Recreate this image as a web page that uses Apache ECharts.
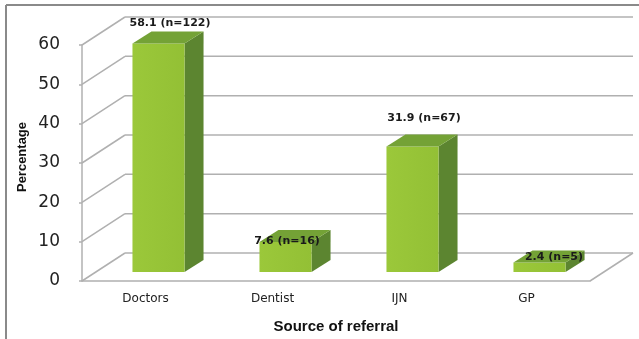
<!DOCTYPE html>
<html>
<head>
<meta charset="utf-8">
<script src="https://cdn.jsdelivr.net/npm/echarts@6/dist/echarts.min.js"></script>
<style>
  html, body { margin: 0; padding: 0; background: #fff; }
  #chart { width: 639px; height: 339px; }
</style>
</head>
<body>
<div id="chart"></div>
<script>
  // data
  var categories = ['Doctors', 'Dentist', 'IJN', 'GP'];
  var percentValues = [58.1, 7.6, 31.9, 2.4];
  var counts = [122, 16, 67, 5];
  var yTicks = [0, 10, 20, 30, 40, 50, 60];

  // 3d look: full depth of the box, where the bar sits in it, and bar depth
  var DEPTH = [43, -28];
  var BAR_SHIFT = [13, -9];
  var BAR_DEPTH = [19, -12];
  // small nudges so the value labels sit like in the original
  var labelNudge = [[2, -14], [-8, 5], [2, -22], [5, 1]];

  var gridColor = '#b0b0b0';

  var myChart = echarts.init(document.getElementById('chart'));

  function renderGrid(params, api) {
    var cs = params.coordSys;
    var v = api.value(0);
    var y = api.coord([0, v])[1];
    var x0 = cs.x, x1 = cs.x + cs.width;
    var style = { stroke: gridColor, lineWidth: 1.5, fill: null };
    var children = [
      { type: 'line', shape: { x1: x0, y1: y, x2: x0 + DEPTH[0], y2: y + DEPTH[1] }, style: style },
      { type: 'line', shape: { x1: x0 + DEPTH[0], y1: y + DEPTH[1], x2: x1 + DEPTH[0], y2: y + DEPTH[1] }, style: style }
    ];
    if (v === 0) {
      children.push({ type: 'line', shape: { x1: x1, y1: y, x2: x1 + DEPTH[0], y2: y + DEPTH[1] }, style: style });
    }
    return { type: 'group', children: children };
  }

  function renderBar(params, api) {
    var i = api.value(0);
    var v = api.value(1);
    var base = api.coord([i, 0]);
    var top = api.coord([i, v]);
    var bw = api.size([1, 0])[0] * 0.41;
    var L = base[0] - bw / 2 + BAR_SHIFT[0];
    var R = L + bw;
    var Ty = top[1] + BAR_SHIFT[1];
    var By = base[1] + BAR_SHIFT[1];
    var dx = BAR_DEPTH[0], dy = BAR_DEPTH[1];
    var nudge = labelNudge[params.dataIndex];
    return {
      type: 'group',
      children: [
        { type: 'polygon', shape: { points: [[R, Ty], [R + dx, Ty + dy], [R + dx, By + dy], [R, By]] },
          style: { fill: '#5c8530' } },
        { type: 'polygon', shape: { points: [[L, Ty], [R, Ty], [R, By], [L, By]] },
          style: { fill: new echarts.graphic.LinearGradient(0, 0, 1, 0, [
            { offset: 0, color: '#9bc83a' }, { offset: 1, color: '#93c035' }]) } },
        { type: 'polygon', shape: { points: [[L, Ty], [R, Ty], [R + dx, Ty + dy], [L + dx, Ty + dy]] },
          style: { fill: '#74a236' } },
        { type: 'text', style: {
            text: v + ' (n=' + counts[params.dataIndex] + ')',
            x: (L + R + dx) / 2 + nudge[0], y: Ty + dy / 2 + nudge[1],
            align: 'center', verticalAlign: 'middle',
            font: 'bold 11px "DejaVu Sans"', fill: '#1a1a1a' } }
      ]
    };
  }

  var option = {
    animation: false,
    grid: { left: 82, right: 49, top: 45, bottom: 53 },
    xAxis: {
      type: 'category',
      data: categories,
      axisLine: { lineStyle: { color: gridColor, width: 1.5 } },
      axisTick: { show: false },
      axisLabel: { color: '#222', fontFamily: 'DejaVu Sans', fontSize: 12, margin: 12 },
      name: 'Source of referral',
      nameLocation: 'middle',
      nameGap: 38,
      nameTextStyle: { color: '#111', fontFamily: 'Liberation Sans', fontWeight: 'bold', fontSize: 15 }
    },
    yAxis: {
      type: 'value',
      min: 0,
      max: 60,
      interval: 10,
      axisLine: { show: true, lineStyle: { color: gridColor, width: 1.5 } },
      axisTick: { show: true, length: 3, lineStyle: { color: gridColor, width: 1.5 } },
      splitLine: { show: false },
      axisLabel: { color: '#222', fontFamily: 'DejaVu Sans', fontSize: 17, margin: 22 }
    },
    graphic: [
      { type: 'line', shape: { x1: 6, y1: 5, x2: 639, y2: 5 }, style: { stroke: '#8a8a8a', lineWidth: 2 } },
      { type: 'line', shape: { x1: 6, y1: 5, x2: 6, y2: 339 }, style: { stroke: '#8a8a8a', lineWidth: 2 } },
      { type: 'text', x: 22, y: 157, rotation: Math.PI / 2,
        style: { text: 'Percentage', align: 'center', verticalAlign: 'middle',
          font: 'bold 13px "Liberation Sans"', fill: '#111' } }
    ],
    series: [
      {
        type: 'custom',
        renderItem: renderGrid,
        data: yTicks.map(function (t) { return [t]; }),
        encode: { y: 0 },
        silent: true,
        z: 1
      },
      {
        type: 'custom',
        renderItem: renderBar,
        data: percentValues.map(function (v, i) { return [i, v]; }),
        encode: { x: 0, y: 1 },
        z: 3
      }
    ]
  };

  myChart.setOption(option);
</script>
</body>
</html>
